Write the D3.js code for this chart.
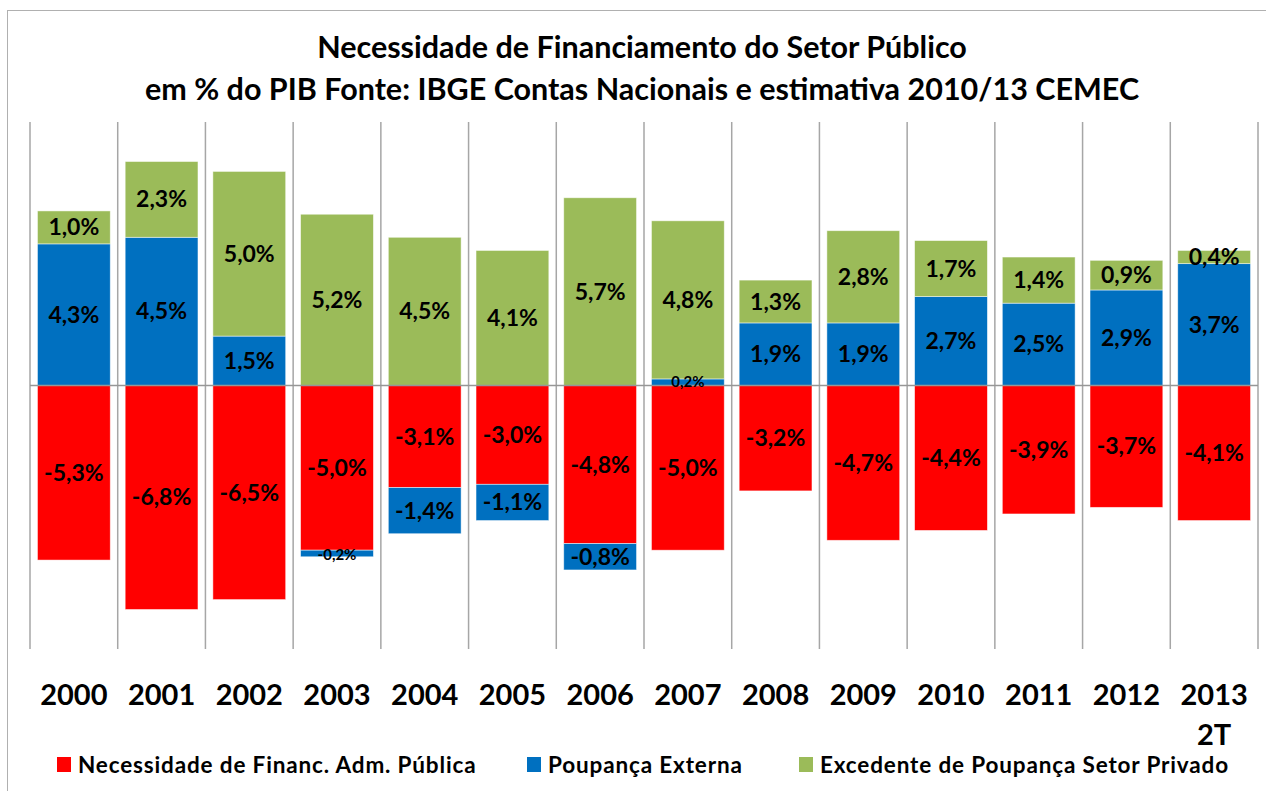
<!DOCTYPE html>
<html><head><meta charset="utf-8">
<script src="https://cdn.jsdelivr.net/npm/d3@7"></script>
<style>body{margin:0;background:#fff}text{font-family:Lato,"Open Sans",sans-serif;font-weight:bold}</style>
</head><body><svg id="c" width="1266" height="791"></svg>
<script>
const years = ["2000","2001","2002","2003","2004","2005","2006","2007","2008","2009","2010","2011","2012","2013"];
const necessidade = [-5.3,-6.8,-6.5,-5.0,-3.1,-3.0,-4.8,-5.0,-3.2,-4.7,-4.4,-3.9,-3.7,-4.1];
const poupancaExterna = [4.3,4.5,1.5,-0.2,-1.4,-1.1,-0.8,0.2,1.9,1.9,2.7,2.5,2.9,3.7];
const excedente = [1.0,2.3,5.0,5.2,4.5,4.1,5.7,4.8,1.3,2.8,1.7,1.4,0.9,0.4];
const seriesNames = ["Necessidade de Financ. Adm. Pública","Poupança Externa","Excedente de Poupança Setor Privado"];
const colors = ["#ff0000","#0070c0","#9bbb59"];
const titleLines = ["Necessidade de Financiamento do Setor Público","em % do PIB Fonte: IBGE Contas Nacionais e estimativa 2010/13 CEMEC"];

const svg = d3.select("#c");
svg.append("rect").attr("x",7.5).attr("y",10.5).attr("width",1270).attr("height",800).attr("fill","none").attr("stroke","#b0b0b0");

const keys = ["nec","pe","exc"];
const table = years.map((y,i)=>({year:y, nec:necessidade[i], pe:poupancaExterna[i], exc:excedente[i]}));
const stacked = d3.stack().keys(keys).offset(d3.stackOffsetDiverging)(table);

const x = d3.scaleBand().domain(years).range([30,1258]).paddingInner(0.17).paddingOuter(0.085);
const xc = d3.scaleBand().domain(years).range([30,1258]);
const y = d3.scaleLinear().domain([-8,8]).range([649,122]);

// separators
const g = svg.append("g");
g.selectAll("line.sep").data(d3.range(years.length+1)).join("line")
 .attr("x1",i=>30+i*xc.step()).attr("x2",i=>30+i*xc.step())
 .attr("y1",y(8)).attr("y2",y(-8)).attr("stroke","#a6a6a6").attr("stroke-width",1.5);

stacked.forEach((s,k)=>{
  g.append("g").selectAll("rect").data(s).join("rect")
   .attr("x",d=>x(d.data.year)).attr("width",x.bandwidth())
   .attr("y",d=>y(Math.max(d[0],d[1]))).attr("height",d=>Math.abs(y(d[0])-y(d[1])))
   .attr("fill",colors[k]).attr("stroke","rgba(255,255,255,0.6)").attr("stroke-width",0.8);
});

// zero line
g.append("line").attr("x1",30).attr("x2",1258).attr("y1",y(0)).attr("y2",y(0)).attr("stroke","#969696").attr("stroke-width",1.5);

// labels
const fmt = v => d3.format(".1f")(v).replace("−","-").replace(".",",")+"%";
stacked.forEach((s,k)=>{
  g.append("g").selectAll("text").data(s).join("text")
   .attr("x",d=>x(d.data.year)+x.bandwidth()/2)
   .attr("y",d=>{const v=d.data[keys[k]]; const small=Math.abs(v)<0.3; return y((d[0]+d[1])/2)+(small?(v<0?7:5):8);})
   .attr("text-anchor","middle")
   .attr("font-size",d=>Math.abs(d.data[keys[k]])<0.3?15:23)
   .attr("fill","#000")
   .text(d=>fmt(d.data[keys[k]]));
});

// x labels
const xl = svg.append("g");
xl.selectAll("text").data(years).join("text")
 .attr("x",d=>xc(d)+xc.bandwidth()/2).attr("y",705).attr("text-anchor","middle")
 .attr("font-size",29).text(d=>d);
xl.append("text").attr("x",xc("2013")+xc.bandwidth()/2).attr("y",745).attr("text-anchor","middle").attr("font-size",29).text("2T");

// title
svg.selectAll("text.title").data(titleLines).join("text").attr("class","title")
 .attr("x",642).attr("y",(d,i)=>58+i*42).attr("text-anchor","middle").attr("font-size",30.5).text(d=>d);

// legend
const legX = [57,527,799];
const lg = svg.append("g");
seriesNames.forEach((n,i)=>{
  lg.append("rect").attr("x",legX[i]).attr("y",757).attr("width",14).attr("height",15).attr("fill",colors[i]);
  lg.append("text").attr("x",legX[i]+21).attr("y",773).attr("font-size",22.5).attr("letter-spacing",0.85).text(n);
});
</script></body></html>
